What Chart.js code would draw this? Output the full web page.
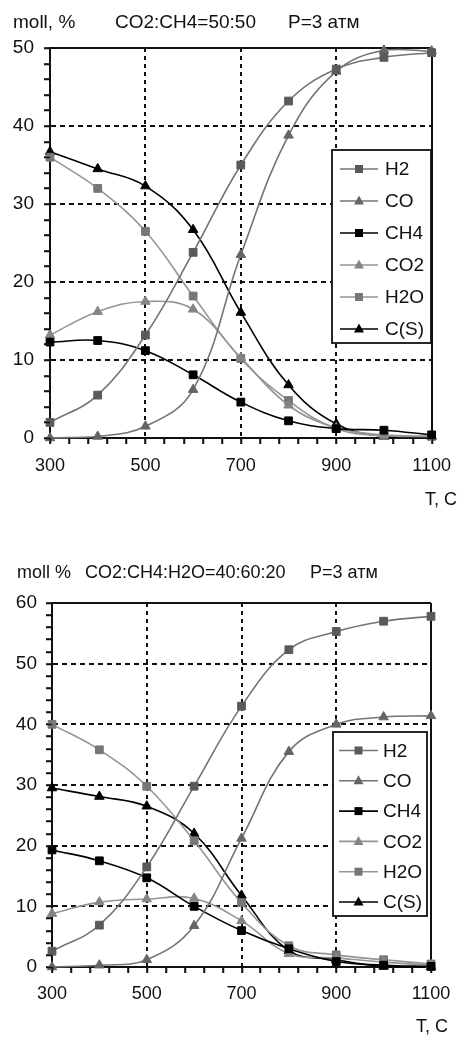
<!DOCTYPE html>
<html><head><meta charset="utf-8">
<script src="https://cdn.jsdelivr.net/npm/chart.js@4.4.1/dist/chart.umd.min.js"></script>
<style>
html,body{margin:0;padding:0;background:#fff;}
#w1{position:absolute;left:0;top:0;width:462px;height:515px;}
#w2{position:absolute;left:0;top:515px;width:462px;height:522px;}
</style></head><body>
<div id="w1"><canvas id="c1" width="462" height="515"></canvas></div>
<div id="w2"><canvas id="c2" width="462" height="522"></canvas></div>
<script>
// ---------- data ----------
const temps = [300, 400, 500, 600, 700, 800, 900, 1000, 1100];
const seriesNames = ['H2', 'CO', 'CH4', 'CO2', 'H2O', 'C(S)'];

// chart 1: CO2:CH4=50:50, P=3 атм
const topH2  = [2.0, 5.5, 13.2, 23.8, 35.0, 43.2, 47.3, 48.8, 49.4];
const topCO  = [0.0, 0.2, 1.5, 6.2, 23.5, 38.8, 47.0, 49.7, 49.6];
const topCH4 = [12.3, 12.5, 11.2, 8.1, 4.6, 2.2, 1.2, 1.0, 0.4];
const topCO2 = [13.2, 16.2, 17.5, 16.5, 10.3, 4.2, 1.3, 0.4, 0.2];
const topH2O = [36.0, 32.0, 26.5, 18.2, 10.2, 4.8, 1.2, 0.3, 0.2];
const topCS  = [36.7, 34.5, 32.3, 26.7, 16.1, 6.8, 1.8, 0.2, 0.2];

// chart 2: CO2:CH4:H2O=40:60:20, P=3 атм
const botH2  = [2.6, 6.9, 16.5, 29.8, 43.0, 52.3, 55.3, 57.0, 57.8];
const botCO  = [0.0, 0.3, 1.2, 6.8, 21.2, 35.5, 40.0, 41.2, 41.4];
const botCH4 = [19.3, 17.5, 14.7, 10.0, 6.0, 3.0, 0.9, 0.3, 0.1];
const botCO2 = [8.8, 10.7, 11.2, 11.3, 7.6, 2.2, 1.5, 0.8, 0.3];
const botH2O = [40.0, 35.8, 29.8, 20.8, 10.6, 3.5, 2.0, 1.2, 0.5];
const botCS  = [29.5, 28.1, 26.5, 22.0, 11.8, 2.7, 1.2, 0.1, 0.0];

const xTickLabels = [300, 500, 700, 900, 1100];
const topYLabels = [0, 10, 20, 30, 40, 50];
const botYLabels = [0, 10, 20, 30, 40, 50, 60];

const topTitle = ['moll, %', 'CO2:CH4=50:50', 'P=3 атм'];
const botTitle = ['moll %', 'CO2:CH4:H2O=40:60:20', 'P=3 атм'];
const xAxisTitle = 'T, C';

// ---------- styles ----------
const FONT = "'Liberation Sans', Arial, sans-serif";
const seriesStyles = [
  {line: '#747474', pt: '#5a5a5a', shape: 'rect'},
  {line: '#747474', pt: '#656565', shape: 'triangle'},
  {line: '#000000', pt: '#000000', shape: 'rect'},
  {line: '#959595', pt: '#858585', shape: 'triangle'},
  {line: '#959595', pt: '#777777', shape: 'rect'},
  {line: '#000000', pt: '#000000', shape: 'triangle'}
];

function makeDatasets(values) {
  return seriesNames.map((name, i) => ({
    label: name,
    data: temps.map((t, j) => ({x: t, y: values[i][j]})),
    borderColor: seriesStyles[i].line,
    backgroundColor: seriesStyles[i].pt,
    pointBackgroundColor: seriesStyles[i].pt,
    pointBorderColor: seriesStyles[i].pt,
    pointStyle: seriesStyles[i].shape,
    pointRadius: 5.5,
    pointBorderWidth: 1,
    borderWidth: 1.6,
    tension: 0.4,
    fill: false,
    clip: false
  }));
}

function drawMarker(ctx, shape, x, y, color) {
  ctx.fillStyle = color;
  ctx.beginPath();
  if (shape === 'rect') {
    ctx.rect(x - 4, y - 4, 8, 8);
  } else {
    ctx.moveTo(x, y - 5.5);
    ctx.lineTo(x + 5, y + 3.5);
    ctx.lineTo(x - 5, y + 3.5);
    ctx.closePath();
  }
  ctx.fill();
}

const overlayPlugin = {
  id: 'overlay',
  afterDraw(chart, args, o) {
    const ctx = chart.ctx;
    const xs = chart.scales.x, ys = chart.scales.y;
    const area = chart.chartArea;
    ctx.save();
    // explicit tick marks (major and minor) from the library's scales
    ctx.strokeStyle = '#111';
    ctx.lineWidth = 1.5;
    ctx.beginPath();
    xs.ticks.forEach(t => {
      const px = Math.round(xs.getPixelForValue(t.value)) + 0.5;
      ctx.moveTo(px, area.bottom);
      ctx.lineTo(px, area.bottom + 6);
    });
    ys.ticks.forEach(t => {
      const py = Math.round(ys.getPixelForValue(t.value)) + 0.5;
      ctx.moveTo(area.left - 6, py);
      ctx.lineTo(area.left, py);
    });
    ctx.stroke();
    // texts
    ctx.fillStyle = '#111';
    ctx.textBaseline = 'middle';
    o.texts.forEach(t => {
      ctx.font = t.size + 'px ' + FONT;
      ctx.textAlign = t.align || 'left';
      ctx.fillText(t.text, t.x, t.y);
    });
    // legend box
    const L = o.legend;
    ctx.fillStyle = '#fff';
    ctx.fillRect(L.x, L.y, L.w, L.h);
    ctx.lineWidth = 1.8;
    ctx.strokeStyle = '#111';
    ctx.strokeRect(L.x, L.y, L.w, L.h);
    chart.data.datasets.forEach((ds, i) => {
      const cy = L.firstY + i * L.step;
      ctx.strokeStyle = ds.borderColor;
      ctx.lineWidth = 1.6;
      ctx.beginPath();
      ctx.moveTo(L.x + L.lineStart, cy);
      ctx.lineTo(L.x + L.lineEnd, cy);
      ctx.stroke();
      drawMarker(ctx, ds.pointStyle, L.x + (L.lineStart + L.lineEnd) / 2, cy, ds.pointBackgroundColor);
      ctx.fillStyle = '#111';
      ctx.font = L.size + 'px ' + FONT;
      ctx.textAlign = 'left';
      ctx.fillText(ds.label, L.x + L.textX, cy + 1);
    });
    ctx.restore();
  }
};

function makeScales(ymax, yLabels, xPad, yPad, yWidth) {
  const xMajor = v => xTickLabels.includes(v);
  const yMajor = v => yLabels.includes(v);
  return {
    x: {
      type: 'linear', min: 300, max: 1100,
      afterFit: s => { s.height = 40; },
      ticks: {
        stepSize: 40, autoSkip: false, maxRotation: 0, minRotation: 0, maxTicksLimit: 1000,
        callback: v => xMajor(v) ? String(v) : '',
        font: {family: FONT, size: 18}, color: '#111', padding: xPad
      },
      grid: {
        color: c => (c.tick && xMajor(c.tick.value)) ? '#111' : 'rgba(0,0,0,0)',
        lineWidth: 2, tickLength: 6, tickColor: '#111', tickWidth: 1.5
      },
      border: {
        color: '#111', width: 2,
        dash: c => (!c.tick || c.tick.value === 300 || c.tick.value === 1100) ? [] : [4, 4]
      }
    },
    y: {
      type: 'linear', min: 0, max: ymax,
      afterFit: s => { s.width = yWidth; },
      ticks: {
        stepSize: 2, autoSkip: false, maxTicksLimit: 1000,
        callback: v => yMajor(v) ? String(v) : '',
        font: {family: FONT, size: 19}, color: '#111', padding: yPad
      },
      grid: {
        color: c => (c.tick && yMajor(c.tick.value)) ? '#111' : 'rgba(0,0,0,0)',
        lineWidth: 2, tickLength: 6, tickColor: '#111', tickWidth: 1.5
      },
      border: {
        color: '#111', width: 2,
        dash: c => (!c.tick || c.tick.value === 0 || c.tick.value === ymax) ? [] : [5, 4]
      }
    }
  };
}

new Chart(document.getElementById('c1'), {
  type: 'line',
  data: {datasets: makeDatasets([topH2, topCO, topCH4, topCO2, topH2O, topCS])},
  options: {
    responsive: false, animation: false, devicePixelRatio: 1,
    layout: {padding: {left: 0, top: 48, right: 23, bottom: 37}},
    scales: makeScales(50, topYLabels, 11, 10, 50),
    plugins: {
      legend: {display: false}, tooltip: {enabled: false},
      overlay: {
        texts: [
          {text: topTitle[0], x: 13, y: 23, size: 19},
          {text: topTitle[1], x: 115, y: 23, size: 19},
          {text: topTitle[2], x: 288, y: 23, size: 19},
          {text: xAxisTitle, x: 457, y: 500, size: 18, align: 'right'}
        ],
        legend: {x: 332, y: 150, w: 99, h: 193, firstY: 169, step: 32, lineStart: 8, lineEnd: 46, textX: 53, size: 19}
      }
    }
  },
  plugins: [overlayPlugin]
});

new Chart(document.getElementById('c2'), {
  type: 'line',
  data: {datasets: makeDatasets([botH2, botCO, botCH4, botCO2, botH2O, botCS])},
  options: {
    responsive: false, animation: false, devicePixelRatio: 1,
    layout: {padding: {left: 0, top: 88, right: 31, bottom: 30}},
    scales: makeScales(60, botYLabels, 10, 9, 52),
    plugins: {
      legend: {display: false}, tooltip: {enabled: false},
      overlay: {
        texts: [
          {text: botTitle[0], x: 17, y: 58, size: 18},
          {text: botTitle[1], x: 85, y: 58, size: 18},
          {text: botTitle[2], x: 310, y: 58, size: 18},
          {text: xAxisTitle, x: 448, y: 512, size: 18, align: 'right'}
        ],
        legend: {x: 333, y: 217, w: 94, h: 184, firstY: 235.5, step: 30.3, lineStart: 6, lineEnd: 45, textX: 50, size: 19}
      }
    }
  },
  plugins: [overlayPlugin]
});
</script>
</body></html>
